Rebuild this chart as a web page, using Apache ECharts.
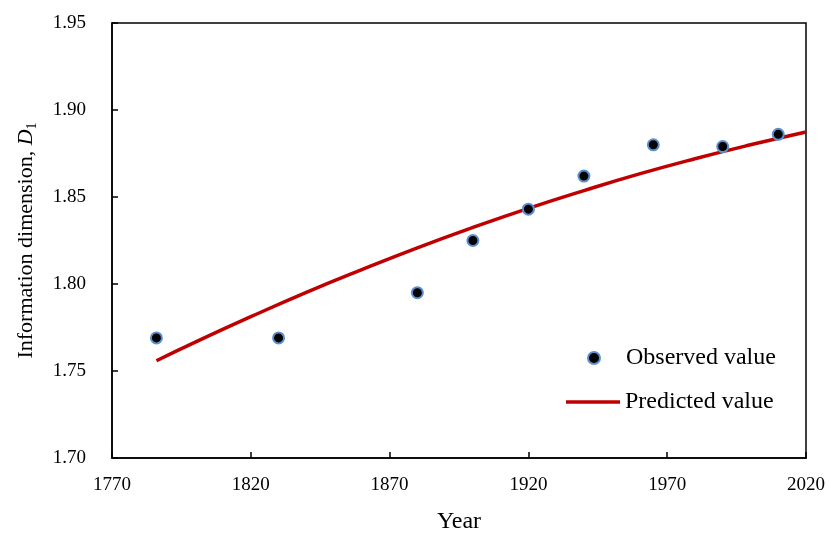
<!DOCTYPE html>
<html>
<head>
<meta charset="utf-8">
<script src="https://cdn.jsdelivr.net/npm/echarts@6/dist/echarts.min.js"></script>
<style>html,body{margin:0;padding:0;background:#fff;}#c{width:829px;height:534px;}</style>
</head>
<body>
<div id="c"></div>
<script>
var xTicks = [1770, 1820, 1870, 1920, 1970, 2020];
var yTicks = [1.70, 1.75, 1.80, 1.85, 1.90, 1.95];
var obsYears = [1786, 1830, 1880, 1900, 1920, 1940, 1965, 1990, 2010];
var obsValues = [1.769, 1.769, 1.795, 1.825, 1.843, 1.862, 1.880, 1.879, 1.886];
var predYears = [1786, 1800, 1820, 1840, 1860, 1880, 1900, 1920, 1940, 1960, 1980, 2000, 2020];
var predValues = [1.7559, 1.7666, 1.7812, 1.7952, 1.8083, 1.8208, 1.8325, 1.8435, 1.8537, 1.8633, 1.8720, 1.8800, 1.8874];

var font = '"Liberation Serif", "Times New Roman", serif';
var chart = echarts.init(document.getElementById('c'));
chart.setOption({
  animation: false,
  grid: {left: 112, right: 23, top: 23, bottom: 76, outerBoundsMode: 'none', containLabel: false, show: true, borderColor: '#000', borderWidth: 1.5, backgroundColor: 'transparent'},
  legend: [
    {
      orient: 'vertical', left: 587, top: 346, padding: 0, itemWidth: 54, itemHeight: 12,
      textStyle: {fontFamily: font, fontSize: 24, color: '#000'},
      data: [{name: 'Observed value', icon: 'circle'}]
    },
    {
      orient: 'vertical', left: 566, top: 390, padding: 0, itemWidth: 54, itemHeight: 3.5,
      textStyle: {fontFamily: font, fontSize: 24, color: '#000'},
      data: [{name: 'Predicted value', icon: 'rect'}]
    }
  ],
  xAxis: {
    type: 'value', min: xTicks[0], max: xTicks[xTicks.length - 1], interval: 50,
    name: 'Year', nameLocation: 'middle', nameGap: 52,
    nameTextStyle: {fontFamily: font, fontSize: 24, color: '#000'},
    axisLine: {lineStyle: {color: '#000', width: 1.5}},
    axisTick: {inside: true, length: 6, lineStyle: {color: '#000', width: 1.5}},
    axisLabel: {fontFamily: font, fontSize: 19, color: '#000', margin: 18, formatter: function (v) { return String(v); }},
    splitLine: {show: false}
  },
  yAxis: {
    type: 'value', min: yTicks[0], max: yTicks[yTicks.length - 1], interval: 0.05,
    name: '{a|Information dimension, }{i|D}{s|1}', nameLocation: 'middle', nameGap: 73,
    nameTextStyle: {
      fontFamily: font, fontSize: 22, color: '#000',
      rich: {
        a: {fontFamily: font, fontSize: 22, color: '#000'},
        i: {fontFamily: font, fontSize: 22, color: '#000', fontStyle: 'italic'},
        s: {fontFamily: font, fontSize: 14, color: '#000', padding: [12, 0, 0, 0]}
      }
    },
    axisLine: {lineStyle: {color: '#000', width: 1.5}},
    axisTick: {inside: true, length: 6, lineStyle: {color: '#000', width: 1.5}},
    axisLabel: {fontFamily: font, fontSize: 19, color: '#000', margin: 26, formatter: function (v) { return v.toFixed(2); }},
    splitLine: {show: false}
  },
  series: [
    {
      name: 'Predicted value', type: 'line', smooth: true, showSymbol: false, symbol: 'none',
      data: predYears.map(function (y, i) { return [y, predValues[i]]; }),
      lineStyle: {color: '#c00000', width: 3.5}, itemStyle: {color: '#c00000'}, z: 2
    },
    {
      name: 'Observed value', type: 'scatter', symbol: 'circle', symbolSize: 11,
      data: obsYears.map(function (y, i) { return [y, obsValues[i]]; }),
      itemStyle: {color: '#000', borderColor: '#5b8fd0', borderWidth: 2, opacity: 1}, z: 3
    }
  ]
});
</script>
</body>
</html>
